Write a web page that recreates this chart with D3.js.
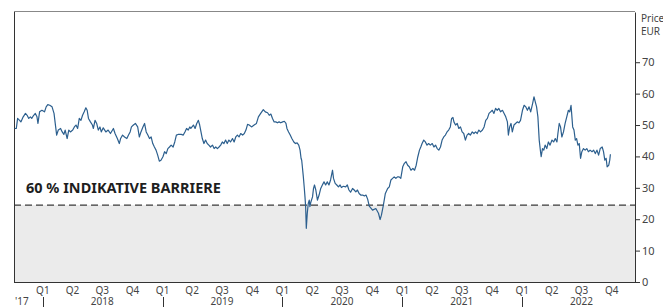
<!DOCTYPE html>
<html lang="de">
<head>
<meta charset="UTF-8">
<title>Kursverlauf</title>
<script src="https://d3js.org/d3.v7.min.js"></script>
<style>
  body { margin: 0; background: #fff; }
  svg { display: block; font-family: "Noto Sans", sans-serif; }
</style>
</head>
<body>
<script>
// Kursverlauf (EUR)
const priceSeries = [
  ["2017-10-07",48.9],["2017-10-12",48.9],["2017-10-16",52.1],["2017-10-22",51.5],["2017-10-26",51.0],
  ["2017-11-02",52.6],["2017-11-09",53.7],["2017-11-14",53.1],["2017-11-19",52.1],["2017-11-24",52.6],
  ["2017-11-28",52.1],["2017-12-04",53.1],["2017-12-09",53.7],["2017-12-14",52.6],["2017-12-17",50.5],
  ["2017-12-22",54.2],["2017-12-29",54.7],["2018-01-06",54.2],["2018-01-11",55.8],["2018-01-16",56.5],
  ["2018-01-22",56.3],["2018-01-29",55.8],["2018-02-04",53.7],["2018-02-09",49.4],["2018-02-12",46.8],
  ["2018-02-17",48.4],["2018-02-24",48.9],["2018-03-01",47.8],["2018-03-06",47.0],["2018-03-10",48.4],
  ["2018-03-16",45.7],["2018-03-21",48.4],["2018-03-26",47.8],["2018-04-02",48.4],["2018-04-07",49.4],
  ["2018-04-12",50.0],["2018-04-17",48.9],["2018-04-22",52.1],["2018-04-27",51.5],["2018-05-02",53.1],
  ["2018-05-07",54.2],["2018-05-12",55.5],["2018-05-16",54.7],["2018-05-20",52.1],["2018-05-26",51.0],
  ["2018-06-01",50.0],["2018-06-04",48.9],["2018-06-09",51.5],["2018-06-14",50.5],["2018-06-19",48.4],
  ["2018-06-24",49.4],["2018-06-28",47.8],["2018-07-04",49.1],["2018-07-12",47.8],["2018-07-19",48.4],
  ["2018-07-26",47.3],["2018-08-04",48.9],["2018-08-09",47.3],["2018-08-16",45.7],["2018-08-22",44.1],
  ["2018-08-26",45.7],["2018-09-01",46.8],["2018-09-07",46.2],["2018-09-14",45.7],["2018-09-19",46.8],
  ["2018-09-24",47.8],["2018-09-28",49.4],["2018-10-04",50.0],["2018-10-10",50.5],["2018-10-17",49.4],
  ["2018-10-22",46.2],["2018-10-27",47.8],["2018-11-02",49.4],["2018-11-07",50.5],["2018-11-12",47.8],
  ["2018-11-17",46.8],["2018-11-22",45.7],["2018-11-27",46.2],["2018-12-02",44.1],["2018-12-07",43.0],
  ["2018-12-12",42.0],["2018-12-17",40.4],["2018-12-22",38.5],["2018-12-27",38.8],["2019-01-02",39.9],
  ["2019-01-07",41.5],["2019-01-12",40.9],["2019-01-17",42.5],["2019-01-22",43.0],["2019-01-27",43.6],
  ["2019-02-02",43.0],["2019-02-07",44.6],["2019-02-12",46.8],["2019-02-17",47.0],["2019-02-27",47.0],
  ["2019-03-05",46.8],["2019-03-10",47.8],["2019-03-15",48.9],["2019-03-20",48.4],["2019-03-25",49.4],
  ["2019-03-28",48.9],["2019-04-05",50.0],["2019-04-10",48.9],["2019-04-15",50.5],["2019-04-20",51.5],
  ["2019-04-24",50.0],["2019-04-28",47.8],["2019-05-02",45.7],["2019-05-07",44.1],["2019-05-12",45.2],
  ["2019-05-17",44.1],["2019-05-22",43.6],["2019-05-27",43.0],["2019-06-02",43.6],["2019-06-07",42.5],
  ["2019-06-12",43.0],["2019-06-17",42.5],["2019-06-22",43.0],["2019-06-27",43.6],["2019-07-02",44.6],
  ["2019-07-07",44.1],["2019-07-12",45.2],["2019-07-17",44.1],["2019-07-22",45.2],["2019-07-27",44.6],
  ["2019-08-02",45.7],["2019-08-07",44.6],["2019-08-12",46.2],["2019-08-17",46.8],["2019-08-22",46.2],
  ["2019-08-27",47.3],["2019-09-02",46.8],["2019-09-07",47.3],["2019-09-12",48.4],["2019-09-17",50.2],
  ["2019-09-22",50.0],["2019-09-29",49.4],["2019-10-07",50.0],["2019-10-14",50.5],["2019-10-20",52.6],
  ["2019-10-27",53.7],["2019-11-04",54.9],["2019-11-10",54.2],["2019-11-17",53.9],["2019-11-22",53.1],
  ["2019-11-27",53.5],["2019-12-02",52.1],["2019-12-07",51.0],["2019-12-12",51.0],["2019-12-17",50.7],
  ["2019-12-22",51.0],["2019-12-27",50.7],["2020-01-02",51.0],["2020-01-07",51.2],["2020-01-12",50.5],
  ["2020-01-15",48.9],["2020-01-20",47.8],["2020-01-25",46.8],["2020-01-30",45.7],["2020-02-05",44.6],
  ["2020-02-10",44.1],["2020-02-15",44.3],["2020-02-20",43.6],["2020-02-24",42.0],["2020-02-27",39.4],
  ["2020-02-29",38.8],["2020-03-02",36.7],["2020-03-05",33.5],["2020-03-08",29.8],["2020-03-10",27.1],
  ["2020-03-12",24.0],["2020-03-14",17.1],["2020-03-17",21.9],["2020-03-20",25.0],["2020-03-23",26.1],
  ["2020-03-25",24.0],["2020-03-28",25.5],["2020-04-02",27.1],["2020-04-05",29.8],["2020-04-08",30.9],
  ["2020-04-12",29.3],["2020-04-17",26.1],["2020-04-22",27.7],["2020-04-27",29.8],["2020-05-02",30.9],
  ["2020-05-07",31.9],["2020-05-12",30.9],["2020-05-17",31.9],["2020-05-22",30.9],["2020-05-27",32.5],
  ["2020-06-02",35.6],["2020-06-05",33.0],["2020-06-10",31.4],["2020-06-15",30.9],["2020-06-20",30.3],
  ["2020-06-25",30.9],["2020-06-29",30.1],["2020-07-05",30.5],["2020-07-12",30.3],["2020-07-17",30.9],
  ["2020-07-22",29.3],["2020-07-27",28.6],["2020-08-02",29.8],["2020-08-07",29.3],["2020-08-12",28.7],
  ["2020-08-17",29.3],["2020-08-22",28.2],["2020-08-27",27.7],["2020-09-02",27.7],["2020-09-07",27.4],
  ["2020-09-12",27.7],["2020-09-17",26.4],["2020-09-22",24.2],["2020-10-02",22.9],["2020-10-12",23.4],
  ["2020-10-20",21.9],["2020-10-25",19.9],["2020-10-29",21.3],["2020-11-04",24.5],["2020-11-10",28.2],
  ["2020-11-17",29.8],["2020-11-22",30.3],["2020-11-27",32.5],["2020-12-02",33.0],["2020-12-07",33.5],
  ["2020-12-12",33.0],["2020-12-17",33.5],["2020-12-22",33.5],["2020-12-27",33.0],["2021-01-02",36.7],
  ["2021-01-07",37.8],["2021-01-12",38.3],["2021-01-17",37.2],["2021-01-22",36.7],["2021-01-27",35.6],
  ["2021-02-02",36.2],["2021-02-07",35.6],["2021-02-12",37.2],["2021-02-17",39.9],["2021-02-22",42.0],
  ["2021-02-26",43.0],["2021-03-02",44.1],["2021-03-07",45.2],["2021-03-12",44.6],["2021-03-17",43.6],
  ["2021-03-22",44.1],["2021-03-27",43.6],["2021-04-02",44.1],["2021-04-07",43.0],["2021-04-12",43.6],
  ["2021-04-17",42.5],["2021-04-22",42.0],["2021-04-27",43.0],["2021-05-02",45.2],["2021-05-07",46.2],
  ["2021-05-12",46.8],["2021-05-17",47.8],["2021-05-22",48.4],["2021-05-27",49.4],["2021-05-31",52.1],
  ["2021-06-04",52.4],["2021-06-07",51.0],["2021-06-12",50.0],["2021-06-17",50.5],["2021-06-22",48.9],
  ["2021-06-27",49.4],["2021-07-02",47.8],["2021-07-07",47.3],["2021-07-12",45.2],["2021-07-17",46.8],
  ["2021-07-22",47.3],["2021-07-27",46.8],["2021-08-02",47.8],["2021-08-07",47.3],["2021-08-12",47.8],
  ["2021-08-17",47.3],["2021-08-22",48.4],["2021-08-27",47.8],["2021-09-02",48.4],["2021-09-07",49.4],
  ["2021-09-12",51.5],["2021-09-17",52.1],["2021-09-22",53.7],["2021-09-27",54.2],["2021-10-02",54.7],
  ["2021-10-07",53.7],["2021-10-12",55.3],["2021-10-17",54.7],["2021-10-22",55.3],["2021-10-27",54.2],
  ["2021-11-02",54.7],["2021-11-07",53.7],["2021-11-12",52.6],["2021-11-17",51.0],["2021-11-20",46.8],
  ["2021-11-24",49.4],["2021-11-28",50.5],["2021-12-02",47.8],["2021-12-07",50.0],["2021-12-12",50.5],
  ["2021-12-17",51.0],["2021-12-22",50.7],["2021-12-27",51.5],["2022-01-02",54.7],["2022-01-07",56.3],
  ["2022-01-12",55.8],["2022-01-17",54.7],["2022-01-22",55.8],["2022-01-27",54.2],["2022-02-02",56.9],
  ["2022-02-06",59.0],["2022-02-10",57.4],["2022-02-14",55.8],["2022-02-18",52.6],["2022-02-22",45.2],
  ["2022-02-26",41.5],["2022-02-28",39.9],["2022-03-04",42.5],["2022-03-08",42.0],["2022-03-12",43.6],
  ["2022-03-17",42.5],["2022-03-22",44.6],["2022-03-27",43.6],["2022-04-02",45.2],["2022-04-07",44.6],
  ["2022-04-12",45.7],["2022-04-17",44.6],["2022-04-20",47.3],["2022-04-24",50.5],["2022-04-28",49.4],
  ["2022-05-02",46.2],["2022-05-07",47.8],["2022-05-12",50.5],["2022-05-17",52.6],["2022-05-22",54.7],
  ["2022-05-26",54.2],["2022-05-30",56.3],["2022-06-04",49.4],["2022-06-08",48.4],["2022-06-12",45.2],
  ["2022-06-16",45.7],["2022-06-20",43.6],["2022-06-24",44.1],["2022-06-28",39.4],["2022-07-02",41.5],
  ["2022-07-07",42.5],["2022-07-12",42.0],["2022-07-17",42.5],["2022-07-22",41.5],["2022-07-27",42.0],
  ["2022-08-02",41.5],["2022-08-07",42.0],["2022-08-12",40.9],["2022-08-17",42.0],["2022-08-22",40.4],
  ["2022-08-27",42.5],["2022-09-02",43.0],["2022-09-06",41.5],["2022-09-10",38.8],["2022-09-14",39.4],
  ["2022-09-17",36.7],["2022-09-22",37.2],["2022-09-25",38.8],["2022-09-27",40.7]
];

const barrier = 24.5;
const barrierLabel = "60 % INDIKATIVE BARRIERE";
const yTicks = [0, 10, 20, 30, 40, 50, 60, 70];
const xDomain = ["2017-10-05", "2022-12-11"];
const yDomain = [0, 86];

const width = 663, height = 307;
const plot = { left: 14, right: 635, top: 12, bottom: 282 };

const parse = d3.utcParse("%Y-%m-%d");
const data = priceSeries.map(([d, v]) => ({ date: parse(d), value: v }));

const x = d3.scaleUtc().domain(xDomain.map(parse)).range([plot.left, plot.right]);
const y = d3.scaleLinear().domain(yDomain).range([plot.bottom, plot.top]);

const svg = d3.select("body").append("svg")
    .attr("width", width)
    .attr("height", height)
    .attr("viewBox", [0, 0, width, height]);

// Bereich unterhalb der Barriere
svg.append("rect")
    .attr("x", plot.left)
    .attr("y", y(barrier))
    .attr("width", plot.right - plot.left)
    .attr("height", y(0) - y(barrier))
    .attr("fill", "#ebebeb");

svg.append("line")
    .attr("x1", plot.left).attr("x2", plot.right)
    .attr("y1", y(barrier)).attr("y2", y(barrier))
    .attr("stroke", "#3a3a3a")
    .attr("stroke-width", 1.1)
    .attr("stroke-dasharray", "7,4");

svg.append("text")
    .attr("x", 26)
    .attr("y", y(barrier) - 12)
    .attr("font-size", 14.5)
    .attr("font-weight", "bold")
    .attr("fill", "#1e1e1e")
    .text(barrierLabel);

// Rahmen
svg.append("line")
    .attr("x1", plot.left).attr("x2", plot.right)
    .attr("y1", plot.top - 0.5).attr("y2", plot.top - 0.5)
    .attr("stroke", "#888");
svg.append("line")
    .attr("x1", plot.left + 0.5).attr("x2", plot.left + 0.5)
    .attr("y1", plot.top).attr("y2", plot.bottom)
    .attr("stroke", "#333");

// Kurslinie
svg.append("path")
    .datum(data)
    .attr("fill", "none")
    .attr("stroke", "#2c5f8e")
    .attr("stroke-width", 1.2)
    .attr("stroke-linejoin", "round")
    .attr("d", d3.line().x(d => x(d.date)).y(d => y(d.value)));

// y-Achse rechts
const yAxis = svg.append("g")
    .attr("transform", `translate(${plot.right},0)`)
    .call(d3.axisRight(y).tickValues(yTicks).tickSize(5).tickPadding(2).tickSizeOuter(0));
yAxis.select(".domain").attr("stroke", "#333");
yAxis.selectAll(".tick line").attr("stroke", "#333");
yAxis.selectAll(".tick text")
    .attr("font-family", "Noto Sans, sans-serif")
    .attr("font-size", 11)
    .attr("fill", "#444");

svg.append("text")
    .attr("x", 641).attr("y", 22)
    .attr("font-size", 10).attr("fill", "#444")
    .text("Price");
svg.append("text")
    .attr("x", 641).attr("y", 35)
    .attr("font-size", 10).attr("fill", "#444")
    .text("EUR");

// x-Achse: Quartale und Jahre
svg.append("line")
    .attr("x1", plot.left).attr("x2", plot.right)
    .attr("y1", plot.bottom + 0.5).attr("y2", plot.bottom + 0.5)
    .attr("stroke", "#333");

const quarters = d3.utcMonth.every(3).range(parse("2018-01-01"), parse("2022-12-01"));
svg.append("g")
  .selectAll("text")
  .data(quarters)
  .join("text")
    .attr("x", d => x(d))
    .attr("y", 294)
    .attr("text-anchor", "middle")
    .attr("font-size", 10)
    .attr("fill", "#444")
    .text(d => "Q" + (Math.floor(d.getUTCMonth() / 3) + 1));

const years = d3.utcYear.range(parse("2018-01-01"), parse("2022-12-31"));
svg.append("g")
  .selectAll("line")
  .data(years)
  .join("line")
    .attr("x1", d => Math.round(x(d)) + 0.5)
    .attr("x2", d => Math.round(x(d)) + 0.5)
    .attr("y1", 297).attr("y2", height)
    .attr("stroke", "#333");

svg.append("g")
  .selectAll("text")
  .data(years)
  .join("text")
    .attr("x", d => x(d3.utcMonth.offset(d, 6)))
    .attr("y", 305)
    .attr("text-anchor", "middle")
    .attr("font-size", 10)
    .attr("fill", "#444")
    .text(d => d.getUTCFullYear());

svg.append("text")
    .attr("x", 15).attr("y", 305)
    .attr("font-size", 10).attr("fill", "#444")
    .text("'17");
</script>
</body>
</html>
